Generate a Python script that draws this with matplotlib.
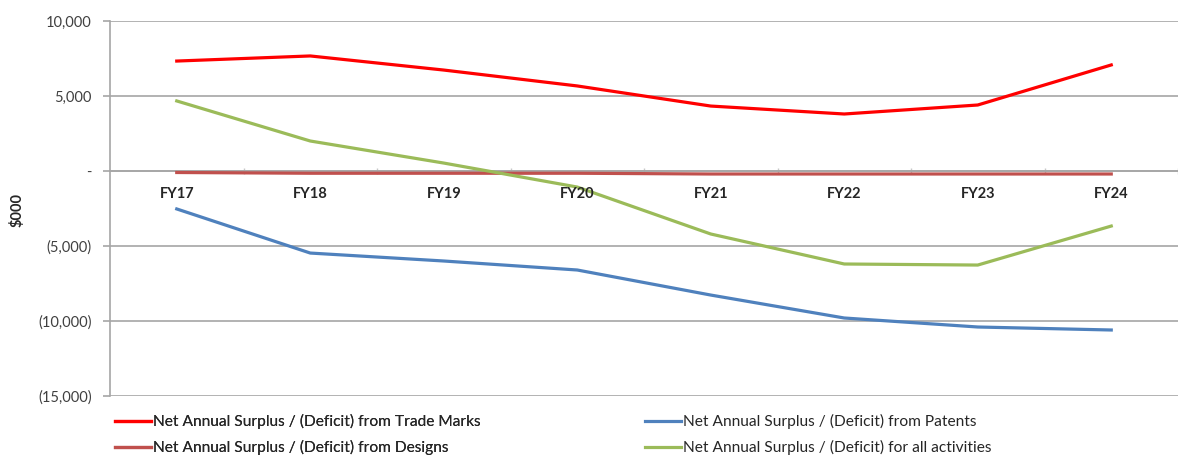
import matplotlib
matplotlib.use('Agg')
import matplotlib.pyplot as plt
import matplotlib.transforms as mtransforms
from matplotlib.ticker import FixedLocator, FuncFormatter

plt.rcParams['font.family'] = ['Lato', 'DejaVu Sans']

years = ['FY17', 'FY18', 'FY19', 'FY20', 'FY21', 'FY22', 'FY23', 'FY24']
trade_marks = [7330, 7670, 6730, 5670, 4330, 3800, 4400, 7070]
patents = [-2530, -5470, -6000, -6600, -8270, -9800, -10400, -10600]
designs = [-100, -150, -150, -150, -200, -200, -200, -200]
all_activities = [4670, 2000, 530, -1070, -4200, -6200, -6270, -3670]

labels = ['Net Annual Surplus / (Deficit) from Trade Marks',
          'Net Annual Surplus / (Deficit) from Patents',
          'Net Annual Surplus / (Deficit) from Designs',
          'Net Annual Surplus / (Deficit) for all activities']
colors = ['#FF0000', '#4F81BD', '#C0504D', '#9BBB59']

W, H = 1178, 455
fig = plt.figure(figsize=(W / 100, H / 100), dpi=100)
ax = fig.add_axes([110 / W, 1 - 396 / H, 1 - 110 / W, (396 - 21) / H])

x = list(range(len(years)))
series = [trade_marks, patents, designs, all_activities]
handles = []
for vals, lab, col in zip(series, labels, colors):
    h, = ax.plot(x, vals, color=col, lw=2.3, label=lab, solid_joinstyle='round', zorder=3)
    handles.append(h)

ax.set_xlim(-0.5, 7 + (W - 1122) / 135)
ax.set_ylim(-15000, 10000)

grid_c = '#A6A6A6'
ax.yaxis.set_major_locator(FixedLocator([-15000, -10000, -5000, 0, 5000, 10000]))
ax.yaxis.grid(True, color=grid_c, lw=1.2)
ax.set_axisbelow(True)

def fmt(v, pos):
    if v == 0:
        return '-'
    if v < 0:
        return '({:,.0f})'.format(-v)
    return '{:,.0f}'.format(v)

ax.yaxis.set_major_formatter(FuncFormatter(fmt))
ax.tick_params(axis='y', length=5, width=1.2, color=grid_c, labelsize=10.5,
               labelcolor='#404040', pad=8)

for s in ['top', 'right']:
    ax.spines[s].set_visible(False)
ax.spines['left'].set_color(grid_c)
ax.spines['left'].set_linewidth(1.2)
ax.spines['bottom'].set_position(('data', 0))
ax.spines['bottom'].set_color(grid_c)
ax.spines['bottom'].set_linewidth(1.2)

ax.set_xticks(x)
ax.set_xticklabels([])
ax.set_xticks([i + 0.5 for i in x], minor=True)
ax.tick_params(axis='x', which='major', length=0)
ax.tick_params(axis='x', which='minor', length=4, width=1.0, color='#C8C8C8', direction='inout')

trans = mtransforms.blended_transform_factory(ax.transData, ax.transData)
offset = mtransforms.ScaledTranslation(0, -23 / 100, fig.dpi_scale_trans)
for xi, yr in zip(x, years):
    ax.text(xi, 0, yr, transform=trans + offset, ha='center', va='center',
            fontsize=10.5, fontweight='bold', color='#262626')

fig.text(17 / W, 1 - 210 / H, '$000', rotation=90, ha='center', va='center',
         fontsize=10.5, fontweight='bold', color='#262626')

leg_kw = dict(loc='upper left', frameon=False, fontsize=11.2, handlelength=2.3,
              handletextpad=0.15, labelspacing=0.7, borderaxespad=0, borderpad=0,
              labelcolor='#262626')
leg1 = fig.legend([handles[0], handles[2]], [labels[0], labels[2]],
                  bbox_to_anchor=(115 / W, 1 - 414 / H), **leg_kw)
leg2 = fig.legend([handles[1], handles[3]], [labels[1], labels[3]],
                  bbox_to_anchor=(645 / W, 1 - 414 / H), **leg_kw)
fig.add_artist(leg1)

fig.savefig('out.png', dpi=100, facecolor='white')
